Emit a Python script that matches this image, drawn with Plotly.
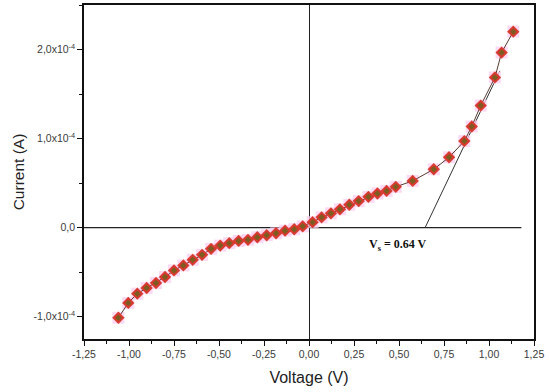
import plotly.graph_objects as go

# Data
voltage = [-1.059, -1.004, -0.954, -0.902, -0.850, -0.800, -0.750, -0.698, -0.646, -0.594,
           -0.544, -0.493, -0.443, -0.391, -0.339, -0.287, -0.235, -0.183, -0.133, -0.082,
           -0.035, 0.020, 0.070, 0.122, 0.172, 0.224, 0.276, 0.330, 0.380, 0.431,
           0.482, 0.576, 0.693, 0.778, 0.863, 0.904, 0.954, 1.033, 1.070, 1.135]
current_e4 = [-1.012, -0.845, -0.741, -0.677, -0.621, -0.554, -0.480, -0.424, -0.361, -0.305,
              -0.238, -0.201, -0.174, -0.149, -0.137, -0.107, -0.085, -0.063, -0.034, -0.018,
              0.015, 0.062, 0.116, 0.161, 0.206, 0.257, 0.298, 0.346, 0.384, 0.413,
              0.458, 0.525, 0.656, 0.790, 0.972, 1.136, 1.371, 1.687, 1.966, 2.201]
current = [c * 1e-4 for c in current_e4]

tangent_v = [0.645, 1.06]
tangent_i = [0.0, 1.76e-4]
zero_line_v = [-1.25, 1.18]
zero_line_i = [0.0, 0.0]

x_ticks = [-1.25, -1.0, -0.75, -0.5, -0.25, 0.0, 0.25, 0.5, 0.75, 1.0, 1.25]
x_ticktext = ["-1,25", "-1,00", "-0,75", "-0,50", "-0,25", "0,00", "0,25", "0,50", "0,75", "1,00", "1,25"]
y_ticks = [-1e-4, 0.0, 1e-4, 2e-4]
y_ticktext = ["-1,0x10<sup>-4</sup>", "0,0", "1,0x10<sup>-4</sup>", "2,0x10<sup>-4</sup>"]

fig = go.Figure()

# horizontal zero line
fig.add_trace(go.Scatter(x=zero_line_v, y=zero_line_i, mode="lines",
                         line=dict(color="#222222", width=1.2), hoverinfo="skip"))
# tangent line
fig.add_trace(go.Scatter(x=tangent_v, y=tangent_i, mode="lines",
                         line=dict(color="#333333", width=1), hoverinfo="skip"))
# pink halo
fig.add_trace(go.Scatter(x=voltage, y=current, mode="markers",
                         marker=dict(symbol="square", size=12, color="rgba(252,205,240,0.75)",
                                     line=dict(width=0)), hoverinfo="skip"))
# connecting line
fig.add_trace(go.Scatter(x=voltage, y=current, mode="lines",
                         line=dict(color="#5a3a30", width=1), hoverinfo="skip"))
# red diamonds
fig.add_trace(go.Scatter(x=voltage, y=current, mode="markers",
                         marker=dict(symbol="diamond", size=9.5, color="#d93a30",
                                     line=dict(width=0))))
# olive centers
fig.add_trace(go.Scatter(x=voltage, y=current, mode="markers",
                         marker=dict(symbol="diamond", size=5, color="#7d5c22",
                                     line=dict(width=0))))

fig.add_annotation(x=0.32, y=-0.19e-4, xref="x", yref="y", xanchor="left", yanchor="middle",
                   text="<b>V<sub>s</sub> = 0.64 V</b>", showarrow=False,
                   font=dict(family="Liberation Serif", size=12, color="#111111"))

fig.update_layout(
    width=550, height=392,
    margin=dict(l=84, r=16, t=5, b=53, autoexpand=False),
    paper_bgcolor="white", plot_bgcolor="white",
    showlegend=False,
    font=dict(family="Liberation Sans, Arial", color="#333333"),
)
fig.update_xaxes(
    range=[-1.25, 1.25], tickvals=x_ticks, ticktext=x_ticktext, automargin=False,
    ticks="outside", ticklen=5, tickwidth=1.3, tickcolor="#111111",
    minor=dict(dtick=0.125, tick0=0, ticks="outside", ticklen=3, tickcolor="#111111", tickwidth=1),
    showline=True, linecolor="#111111", linewidth=1.5, mirror=True,
    showgrid=False, zeroline=True, zerolinecolor="#222222", zerolinewidth=1.2,
    tickfont=dict(size=10.5, color="#3a3a3a"),
    title=dict(text="Voltage (V)", font=dict(size=16, color="#222222"), standoff=12),
)
fig.update_yaxes(
    range=[-1.25e-4, 2.5e-4], tickvals=y_ticks, ticktext=y_ticktext, automargin=False,
    ticks="outside", ticklen=5, tickwidth=1.3, tickcolor="#111111",
    minor=dict(dtick=0.5e-4, tick0=0, ticks="outside", ticklen=3, tickcolor="#111111", tickwidth=1),
    showline=True, linecolor="#111111", linewidth=1.5, mirror=True,
    showgrid=False, zeroline=False,
    tickfont=dict(size=10.5, color="#3a3a3a"),
    title=dict(text="Current (A)", font=dict(size=15.5, color="#222222"), standoff=5),
)

fig.write_html("out.html", config={"displayModeBar": False},
               post_script="document.body.style.margin='0px';")
